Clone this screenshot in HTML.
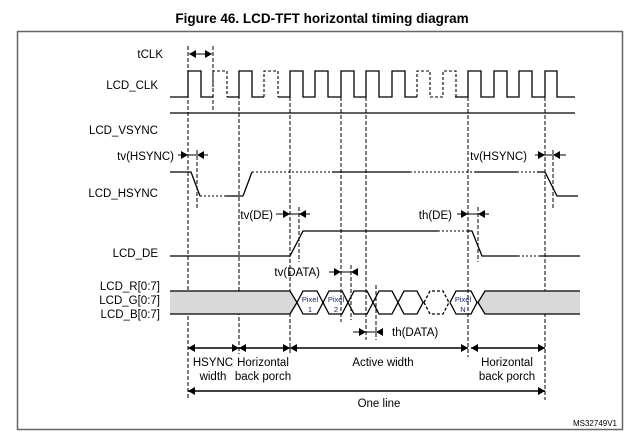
<!DOCTYPE html>
<html><head><meta charset="utf-8"><style>
html,body{margin:0;padding:0;background:#fff;}
svg{display:block;font-family:"Liberation Sans",Arial,sans-serif;}
</style></head><body>
<svg width="643" height="442" viewBox="0 0 643 442" xmlns="http://www.w3.org/2000/svg">
<defs>
<marker id="a" markerWidth="8" markerHeight="8" refX="7" refY="4" orient="auto" markerUnits="userSpaceOnUse"><path d="M0,0 L7,4 L0,8 z" fill="#000"/></marker>
<marker id="b" markerWidth="8" markerHeight="8" refX="1" refY="4" orient="auto" markerUnits="userSpaceOnUse"><path d="M8,0 L1,4 L8,8 z" fill="#000"/></marker>
</defs>
<text x="322" y="23" text-anchor="middle" font-weight="bold" font-size="13.5">Figure 46. LCD-TFT horizontal timing diagram</text>
<rect x="17.5" y="31.5" width="605" height="398" fill="none" stroke="#666" stroke-width="1.5"/>

<g font-size="11.5" text-anchor="end" fill="#000">
<text x="163" y="58">tCLK</text>
<text x="158" y="89">LCD_CLK</text>
<text x="158" y="134">LCD_VSYNC</text>
<text x="174" y="160">tv(HSYNC)</text>
<text x="158" y="197">LCD_HSYNC</text>
<text x="273" y="219">tv(DE)</text>
<text x="158" y="257">LCD_DE</text>
<text x="320" y="276">tv(DATA)</text>
<text x="160" y="290">LCD_R[0:7]</text>
<text x="160" y="304">LCD_G[0:7]</text>
<text x="160" y="318">LCD_B[0:7]</text>
<text x="527" y="160">tv(HSYNC)</text>
<text x="452" y="219">th(DE)</text>
</g>
<text x="392" y="336" font-size="11.5">th(DATA)</text>

<g stroke="#000" stroke-width="1" stroke-dasharray="4,2" fill="none">
<line x1="188" y1="46" x2="188" y2="400"/>
<line x1="213" y1="46" x2="213" y2="110"/>
<line x1="197" y1="150" x2="197" y2="210"/>
<line x1="239" y1="95" x2="239" y2="354"/>
<line x1="290" y1="97" x2="290" y2="354"/>
<line x1="299" y1="207" x2="299" y2="262"/>
<line x1="341" y1="97" x2="341" y2="322"/>
<line x1="351" y1="265" x2="351" y2="320"/>
<line x1="366" y1="97" x2="366" y2="340"/>
<line x1="376" y1="285" x2="376" y2="340"/>
<line x1="468" y1="97" x2="468" y2="357"/>
<line x1="478" y1="207" x2="478" y2="262"/>
<line x1="545" y1="97" x2="545" y2="400"/>
<line x1="553" y1="150" x2="553" y2="210"/>
</g>

<g stroke="#000" stroke-width="1.3" fill="none">
<polyline points="170,97 188,97 188,71 201,71 201,97 213,97"/>
<polyline points="227,97 239,97 239,71 252,71 252,97 264,97" />
<polyline points="278,97 290,97 290,71 303,71 303,97 315,97 315,71 328,71 328,97 341,97 341,71 354,71 354,97 366,97 366,71 379,71 379,97 392,97 392,71 405,71 405,97 417,97"/>
<polyline points="455,97 468,97 468,71 481,71 481,97 494,97 494,71 507,71 507,97 519,97 519,71 532,71 532,97 545,97 545,71 557,71 557,97 575,97"/>
</g>
<g stroke="#000" stroke-width="1.1" fill="none" stroke-dasharray="3,2">
<polyline points="213,97 213,71 227,71 227,97"/>
<polyline points="264,97 264,71 278,71 278,97"/>
<polyline points="417,97 417,71 430,71 430,97 443,97 443,71 456,71 456,97"/>
</g>
<line x1="170" y1="113" x2="575" y2="113" stroke="#000" stroke-width="1.3"/>

<line x1="189" y1="54" x2="212" y2="54" stroke="#000" marker-end="url(#a)" marker-start="url(#b)"/>

<g stroke="#000" stroke-width="1.3" fill="none">
<polyline points="170,172 191,172 200,196"/>
<line x1="226" y1="196" x2="243" y2="196"/>
<polyline points="243,196 252,172"/>
<line x1="332" y1="172" x2="410" y2="172"/>
<line x1="475" y1="172" x2="517" y2="172"/>
<polyline points="537,172 545,172 557,196 578,196"/>
</g>
<g stroke="#000" stroke-width="1.1" fill="none" stroke-dasharray="2,2">
<line x1="200" y1="196" x2="226" y2="196"/>
<line x1="252" y1="172" x2="332" y2="172"/>
<line x1="410" y1="172" x2="475" y2="172"/>
<line x1="517" y1="172" x2="537" y2="172"/>
</g>
<g stroke="#000" stroke-width="1">
<line x1="178" y1="155" x2="188" y2="155" marker-end="url(#a)"/>
<line x1="188" y1="155" x2="197" y2="155"/>
<line x1="197" y1="155" x2="208" y2="155" marker-start="url(#b)"/>
<line x1="535" y1="155" x2="545" y2="155" marker-end="url(#a)"/>
<line x1="545" y1="155" x2="553" y2="155"/>
<line x1="553" y1="155" x2="566" y2="155" marker-start="url(#b)"/>
<line x1="276" y1="214" x2="290" y2="214" marker-end="url(#a)"/>
<line x1="290" y1="214" x2="299" y2="214"/>
<line x1="299" y1="214" x2="310" y2="214" marker-start="url(#b)"/>
<line x1="457" y1="214" x2="468" y2="214" marker-end="url(#a)"/>
<line x1="468" y1="214" x2="478" y2="214"/>
<line x1="478" y1="214" x2="489" y2="214" marker-start="url(#b)"/>
<line x1="329" y1="272" x2="341" y2="272" marker-end="url(#a)"/>
<line x1="341" y1="272" x2="351" y2="272"/>
<line x1="351" y1="272" x2="358" y2="272" marker-start="url(#b)"/>
<line x1="353" y1="332" x2="366" y2="332" marker-end="url(#a)"/>
<line x1="366" y1="332" x2="376" y2="332"/>
<line x1="376" y1="332" x2="383" y2="332" marker-start="url(#b)"/>
</g>

<g stroke="#000" stroke-width="1.3" fill="none">
<polyline points="170,256 290,256 303,231 438,231"/>
<polyline points="468,231 472,231 482,256 518,256"/>
<line x1="540" y1="256" x2="580" y2="256"/>
</g>
<g stroke="#000" stroke-width="1.1" stroke-dasharray="2,2">
<line x1="438" y1="231" x2="468" y2="231"/>
<line x1="518" y1="256" x2="540" y2="256"/>
</g>

<g stroke="#000" stroke-width="1.3">
<polygon points="170,291 290,291 297,302.5 290,314 170,314" fill="#d9d9d9" stroke="none"/>
<polyline points="170,291 290,291 297,302.5 290,314 170,314" fill="none"/>
<polygon points="580,291 485,291 478,302.5 485,314 580,314" fill="#d9d9d9" stroke="none"/>
<polyline points="580,291 485,291 478,302.5 485,314 580,314" fill="none"/>
<g fill="none">
<polygon points="297,302.5 303,291 317,291 323,302.5 317,314 303,314"/>
<polygon points="323,302.5 329,291 342,291 348,302.5 342,314 329,314"/>
<polygon points="348,302.5 354,291 367,291 373,302.5 367,314 354,314"/>
<polygon points="373,302.5 379,291 392,291 398,302.5 392,314 379,314"/>
<polygon points="398,302.5 404,291 417,291 423,302.5 417,314 404,314"/>
<polygon points="424,302.5 430,291 443,291 449,302.5 443,314 430,314" stroke-dasharray="3,2"/>
<polygon points="450,302.5 456,291 471,291 477,302.5 471,314 456,314"/>
</g>
</g>
<g font-size="7.5" text-anchor="middle" fill="#1a2a6a">
<text x="310" y="302">Pixel</text><text x="310" y="312">1</text>
<text x="336" y="302">Pixel</text><text x="336" y="312">2</text>
<text x="463" y="302">Pixel</text><text x="463" y="312">N</text>
</g>

<g stroke="#000" stroke-width="1.5">
<line x1="188" y1="348" x2="239" y2="348" marker-start="url(#b)" marker-end="url(#a)"/>
<line x1="239" y1="348" x2="290" y2="348" marker-start="url(#b)" marker-end="url(#a)"/>
<line x1="290" y1="348" x2="468" y2="348" marker-start="url(#b)" marker-end="url(#a)"/>
<line x1="471" y1="348" x2="545" y2="348" marker-start="url(#b)" marker-end="url(#a)"/>
<line x1="188" y1="391" x2="545" y2="391" marker-start="url(#b)" marker-end="url(#a)"/>
</g>
<g font-size="11.5" text-anchor="middle">
<text x="213" y="366">HSYNC</text><text x="213" y="380">width</text>
<text x="263" y="366">Horizontal</text><text x="263" y="380">back porch</text>
<text x="383" y="366">Active width</text>
<text x="507" y="366">Horizontal</text><text x="507" y="380">back porch</text>
<text x="379" y="407">One line</text>
</g>
<text x="617" y="426" font-size="8" text-anchor="end">MS32749V1</text>
</svg>
</body></html>
